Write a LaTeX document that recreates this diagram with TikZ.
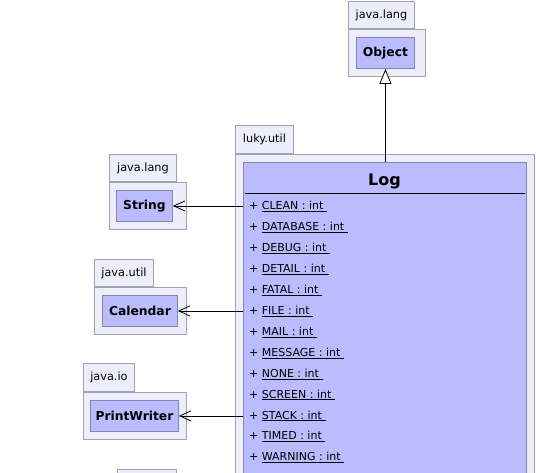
\documentclass[tikz,border=0pt]{standalone}
\usepackage{fontspec}
\setmainfont{DejaVu Sans}
\usetikzlibrary{arrows.meta, positioning}
\definecolor{pkgfill}{HTML}{EEEEFA}
\definecolor{pkgline}{HTML}{A2A2B4}
\definecolor{classfill}{HTML}{BBBBFF}
\definecolor{classline}{HTML}{8585AD}
\tikzset{
	pkgbody/.style={
			draw=pkgline,
			fill=pkgfill,
			line width=0.9pt,
			anchor=north west,
			inner sep=0pt
		},
	pkgtab/.style={
			pkgbody,
			anchor=south west,
			font=\fontsize{11.3}{13}\selectfont
		},
	classbox/.style={
			draw=classline,
			fill=classfill,
			line width=0.9pt,
			anchor=north west,
			inner sep=0pt,
			font=\fontsize{12.3}{14}\selectfont\bfseries
		},
	attr/.style={
			anchor=base west,
			inner sep=0pt,
			font=\fontsize{11}{13}\selectfont
		},
	deparrow/.style={
			draw=black,
			line width=0.8pt,
			-{Straight Barb[length=11pt, width=10pt]}
		},
	genarrow/.style={
			draw=black,
			line width=0.8pt,
			-{Triangle[open, length=15pt, width=12pt, fill=white]}
		}
}
\begin{document}
\begin{tikzpicture}[x=1pt, y=-1pt]
	\useasboundingbox (0,0) rectangle (536,473);

	\node[pkgbody, minimum width=77pt, minimum height=47pt] (objpkg) at (348,29) {};
	\node[pkgtab, minimum width=66pt, minimum height=27pt] (objtab) at (objpkg.north west) {java.lang};
	\node[classbox, minimum width=58pt, minimum height=31pt] (object) at (356,37) {Object};

	\node[pkgbody, minimum width=299pt, minimum height=340pt] (logpkg) at (235,154) {};
	\node[pkgtab, minimum width=58pt, minimum height=28pt] (logtab) at (logpkg.north west) {luky.util};
	\node[classbox, minimum width=283pt, minimum height=330pt] (log) at (243,162) {};
	\node[font=\fontsize{16}{19}\selectfont\bfseries, anchor=base] (logname) at (384.5,186) {Log};
	\draw[line width=0.8pt] ([xshift=2pt, yshift=-31pt]log.north west) -- ([xshift=-2pt, yshift=-31pt]log.north east);
	\foreach \attrname [count=\i from 0] in {CLEAN, DATABASE, DEBUG, DETAIL, FATAL, FILE, MAIL, MESSAGE, NONE, SCREEN, STACK, TIMED, WARNING}
		\node[attr] (attr\i) at (249, 210+20.9*\i) {+ \underline{\attrname\ :\ int\ }};

	\node[pkgbody, minimum width=77pt, minimum height=47pt] (strpkg) at (109,182) {};
	\node[pkgtab, minimum width=67pt, minimum height=27pt] (strtab) at (strpkg.north west) {java.lang};
	\node[classbox, minimum width=56pt, minimum height=31pt] (string) at (116,190) {String};

	\node[pkgbody, minimum width=92pt, minimum height=47pt] (calpkg) at (94,287) {};
	\node[pkgtab, minimum width=59pt, minimum height=27pt] (caltab) at (calpkg.north west) {java.util};
	\node[classbox, minimum width=75pt, minimum height=31pt] (calendar) at (102,295) {Calendar};

	\node[pkgbody, minimum width=103pt, minimum height=47pt] (iopkg) at (83,392) {};
	\node[pkgtab, minimum width=51pt, minimum height=28pt] (iotab) at (iopkg.north west) {java.io};
	\node[classbox, minimum width=88pt, minimum height=31pt] (printwriter) at (90,400) {PrintWriter};

	\node[pkgtab, minimum width=59pt, minimum height=27pt, anchor=north west] (nexttab) at (117,469) {};

	\draw[genarrow] (object.south |- log.north) -- (object.south);
	\draw[deparrow] (log.west |- string.east) -- (string.east);
	\draw[deparrow] (log.west |- calendar.east) -- (calendar.east);
	\draw[deparrow] (log.west |- printwriter.east) -- (printwriter.east);
\end{tikzpicture}
\end{document}
